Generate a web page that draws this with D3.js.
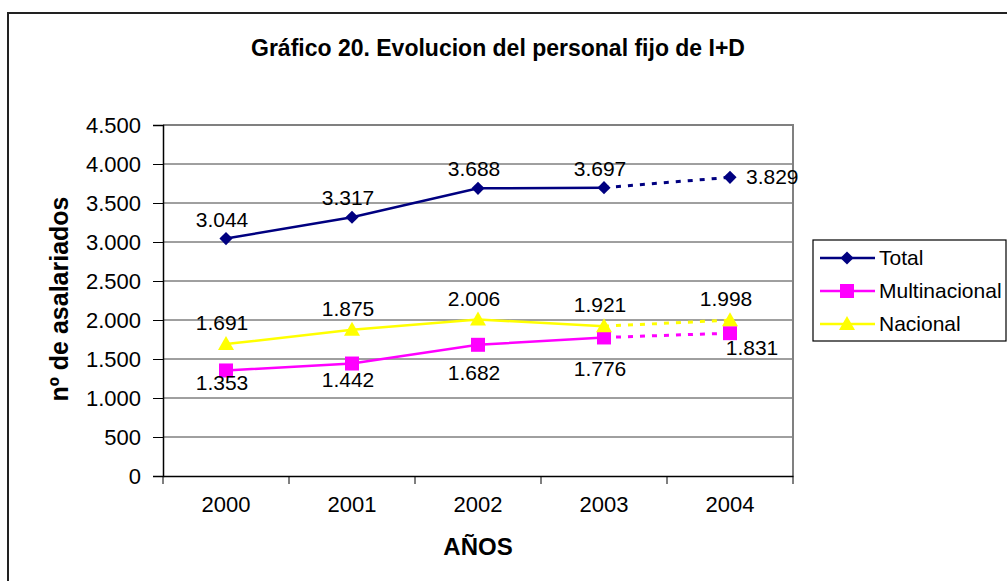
<!DOCTYPE html>
<html>
<head>
<meta charset="utf-8">
<script src="https://cdn.jsdelivr.net/npm/d3@7"></script>
<style>
  body { margin: 0; background: #fff; }
  text { font-family: "Liberation Sans", Arial, sans-serif; fill: #000; }
</style>
</head>
<body>
<script>
let width = 1007;
let height = 581;

// data
let years = ['2000', '2001', '2002', '2003', '2004'];
let total = [3044, 3317, 3688, 3697, 3829];
let multinacional = [1353, 1442, 1682, 1776, 1831];
let nacional = [1691, 1875, 2006, 1921, 1998];
let yTicks = [0, 500, 1000, 1500, 2000, 2500, 3000, 3500, 4000, 4500];

let series = [
  {name: 'Total', values: total, color: '#000080', marker: 'diamond', label: 'above'},
  {name: 'Multinacional', values: multinacional, color: '#ff00ff', marker: 'square', label: 'below'},
  {name: 'Nacional', values: nacional, color: '#ffff00', marker: 'triangle', label: 'above'}
];

let fmt = (v) => d3.format(',')(v).replace(/,/g, '.');

let plot = {left: 163, right: 793, top: 125, bottom: 476};

let svg = d3.select('body').append('svg').attr('width', width).attr('height', height);

// outer frame (runs off the right and bottom edges)
svg.append('rect').attr('x', 8).attr('y', 13).attr('width', width + 20).attr('height', height + 20)
  .attr('fill', 'none').attr('stroke', '#222').attr('stroke-width', 2);

let x = d3.scaleBand().domain(years).range([plot.left, plot.right]);
let y = d3.scaleLinear().domain([0, 4500]).range([plot.bottom, plot.top]);
let cx = (i) => x(years[i]) + x.bandwidth() / 2;

// gridlines
svg.append('g').selectAll('line').data(yTicks.filter(t => t > 0)).enter().append('line')
  .attr('x1', plot.left).attr('x2', plot.right)
  .attr('y1', d => y(d)).attr('y2', d => y(d))
  .attr('stroke', '#404040').attr('stroke-width', 1);

// top and right border of plot area
svg.append('path')
  .attr('d', 'M' + plot.left + ',' + y(4500) + 'H' + plot.right + 'V' + plot.bottom)
  .attr('fill', 'none').attr('stroke', '#808080').attr('stroke-width', 2);

// y axis
let yAxis = svg.append('g').attr('transform', 'translate(' + plot.left + ',0)')
  .call(d3.axisLeft(y).tickValues(yTicks).tickSize(10).tickPadding(12).tickFormat(fmt));
yAxis.select('.domain').attr('stroke', '#000').attr('stroke-width', 1.5);
yAxis.selectAll('.tick line').attr('stroke', '#000');
yAxis.selectAll('text').style('font-size', '22px');

// x axis with ticks between categories
let xAxis = svg.append('g').attr('transform', 'translate(0,' + plot.bottom + ')')
  .call(d3.axisBottom(x).tickSize(0).tickPadding(20));
xAxis.select('.domain').attr('stroke', '#000').attr('stroke-width', 1.5);
xAxis.selectAll('text').style('font-size', '22px');
svg.append('g').selectAll('line').data(d3.range(years.length + 1)).enter().append('line')
  .attr('x1', i => plot.left + i * x.bandwidth()).attr('x2', i => plot.left + i * x.bandwidth())
  .attr('y1', plot.bottom).attr('y2', plot.bottom + 8)
  .attr('stroke', '#000');

// titles
svg.append('text').attr('x', 498).attr('y', 56).attr('text-anchor', 'middle')
  .style('font-size', '23px').style('font-weight', 'bold')
  .text('Gráfico 20. Evolucion del personal fijo de I+D');
svg.append('text').attr('x', 478).attr('y', 555).attr('text-anchor', 'middle')
  .style('font-size', '24px').style('font-weight', 'bold').text('AÑOS');
svg.append('text').attr('transform', 'translate(68,299) rotate(-90)').attr('text-anchor', 'middle')
  .style('font-size', '25px').style('font-weight', 'bold').text('nº de asalariados');

let markerPath = (type) => {
  if (type === 'diamond') return d3.symbol().type(d3.symbolDiamond2).size(110)();
  if (type === 'square') return 'M-7,-7H7V7H-7Z';
  return 'M0,-8L8,6H-8Z';
};

let line = d3.line().x((d, i) => cx(i)).y(d => y(d));

// labels under the pink line were nudged down in the original for 2002/2003
let belowDy = [20, 23, 35, 39, 22];

for (let s of series) {
  let g = svg.append('g');
  let solid = s.values.slice(0, 4);
  g.append('path').attr('d', line(solid)).attr('fill', 'none')
    .attr('stroke', s.color).attr('stroke-width', 2.5);
  g.append('line')
    .attr('x1', cx(3)).attr('y1', y(s.values[3]))
    .attr('x2', cx(4)).attr('y2', y(s.values[4]))
    .attr('stroke', s.color).attr('stroke-width', 3).attr('stroke-dasharray', '5,7');
  g.selectAll('.m').data(s.values).enter().append('path')
    .attr('transform', (d, i) => 'translate(' + cx(i) + ',' + y(d) + ')')
    .attr('d', markerPath(s.marker)).attr('fill', s.color);
  g.selectAll('.lbl').data(s.values).enter().append('text')
    .style('font-size', '21px')
    .attr('text-anchor', (d, i) => (s.name === 'Total' && i === 4) ? 'start' : 'middle')
    .attr('x', (d, i) => {
      if (s.name === 'Total' && i === 4) return cx(i) + 16;
      if (s.name === 'Multinacional' && i === 4) return cx(i) + 22;
      return cx(i) - 4;
    })
    .attr('y', (d, i) => {
      if (s.name === 'Total' && i === 4) return y(d) + 7;
      if (s.label === 'below') return y(d) + belowDy[i];
      if (s.name === 'Total') return y(d) - 12;
      return y(d) - 14;
    })
    .text(fmt);
}

// legend
let legend = svg.append('g');
legend.append('rect').attr('x', 813).attr('y', 240).attr('width', 193).attr('height', 101)
  .attr('fill', '#fff').attr('stroke', '#000').attr('stroke-width', 1.2);
series.forEach((s, i) => {
  let ly = 258 + i * 33;
  legend.append('line').attr('x1', 820).attr('x2', 875).attr('y1', ly).attr('y2', ly)
    .attr('stroke', s.color).attr('stroke-width', 2.5);
  legend.append('path').attr('transform', 'translate(847,' + ly + ')')
    .attr('d', markerPath(s.marker)).attr('fill', s.color);
  legend.append('text').attr('x', 879).attr('y', ly + 7).style('font-size', '21px').text(s.name);
});
</script>
</body>
</html>
